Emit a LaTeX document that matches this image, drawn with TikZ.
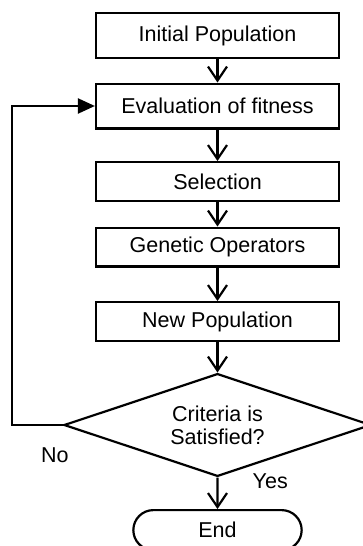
\documentclass[tikz,border=0pt]{standalone}
\usepackage{fontspec}
\setmainfont{Liberation Sans}
\usetikzlibrary{shapes.geometric, shapes.misc, arrows.meta, positioning}
\tikzstyle{startstop} = [rounded rectangle, minimum width=175pt, minimum height=40pt, text centered, draw=black, line width=2.2pt]
\tikzstyle{process} = [rectangle, minimum width=243pt, minimum height=38.8pt, text centered, draw=black, line width=2.2pt]
\tikzstyle{decision} = [diamond, aspect=3, minimum width=307pt, minimum height=102.8pt, inner sep=0pt, align=center, draw=black, line width=2.2pt]
\tikzstyle{lbl} = [inner sep=0pt]
\tikzstyle{arrow} = [line width=2.2pt, -{Straight Barb[length=14pt, width=19pt]}]
\tikzstyle{back} = [line width=2.2pt, -{Triangle[length=17pt, width=15pt]}]

\begin{document}
\begin{tikzpicture}[font=\fontsize{21.5}{23}\selectfont]
\useasboundingbox (0,0) rectangle (363pt,-546pt);
\node (start) [process, minimum height=44.8pt] at (217.5pt,-35.5pt) {Initial Population};
\node (pro1) [process, minimum height=44.8pt, below=23.5pt of start] {Evaluation of fitness};
\node (pro2) [process, below=31.5pt of pro1] {Selection};
\node (pro3) [process, below=24.5pt of pro2] {Genetic Operators};
\node (pro4) [process, below=33.5pt of pro3] {New Population};
\node (dec1) [decision, below=30.5pt of pro4] {Criteria is\\Satisfied?};
\node (stop) [startstop, below=31.5pt of dec1] {End};
\node (no) [lbl, below=23pt of dec1.west, xshift=-8pt] {No};
\node (yes) [lbl, right=35pt of dec1.south, yshift=-4pt] {Yes};

\draw [arrow] (start) -- (pro1);
\draw [arrow] (pro1) -- (pro2);
\draw [arrow] (pro2) -- (pro3);
\draw [arrow] (pro3) -- (pro4);
\draw [arrow] (pro4) -- (dec1);
\draw [arrow] (dec1) -- (stop);
\draw [back] (dec1.west) -- ++(-51pt,0) |- (pro1.west);
\end{tikzpicture}
\end{document}
